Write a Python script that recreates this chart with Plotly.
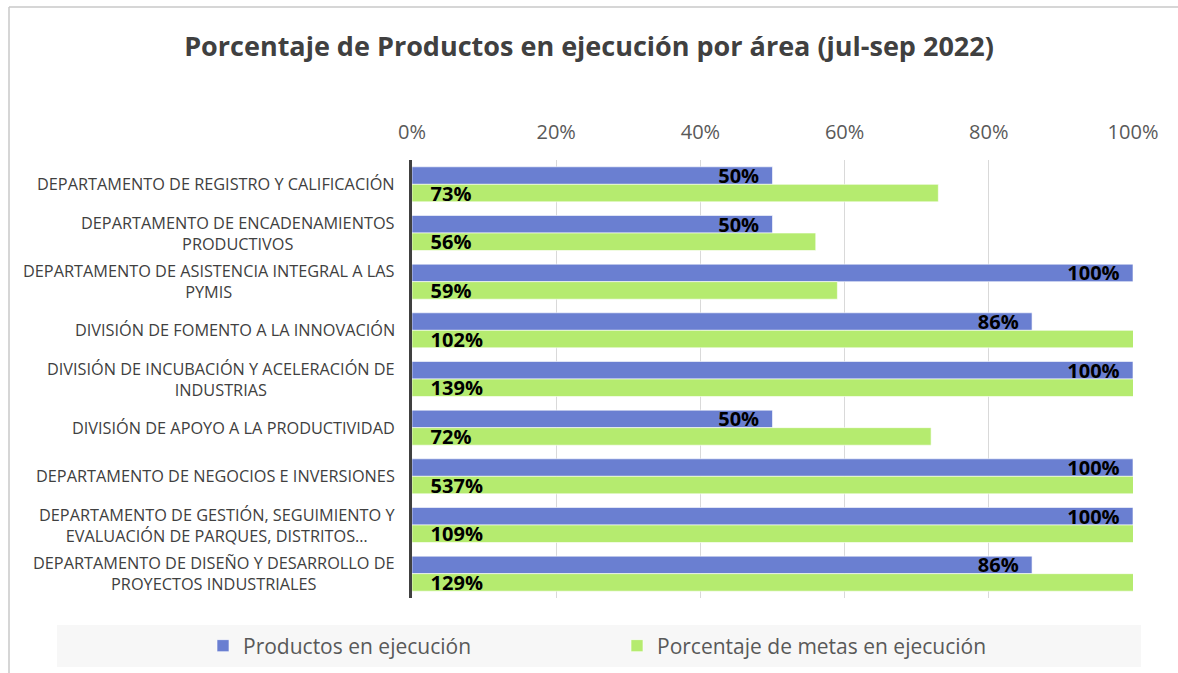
import plotly.graph_objects as go

categories = [
    "DEPARTAMENTO DE REGISTRO Y CALIFICACIÓN",
    "DEPARTAMENTO DE ENCADENAMIENTOS<br>PRODUCTIVOS",
    "DEPARTAMENTO DE ASISTENCIA INTEGRAL A LAS<br>PYMIS",
    "DIVISIÓN DE FOMENTO A LA INNOVACIÓN",
    "DIVISIÓN DE INCUBACIÓN Y ACELERACIÓN DE<br>INDUSTRIAS",
    "DIVISIÓN DE APOYO A LA PRODUCTIVIDAD",
    "DEPARTAMENTO DE NEGOCIOS E INVERSIONES",
    "DEPARTAMENTO DE GESTIÓN, SEGUIMIENTO Y<br>EVALUACIÓN DE PARQUES, DISTRITOS…",
    "DEPARTAMENTO DE DISEÑO Y DESARROLLO DE<br>PROYECTOS INDUSTRIALES",
]
productos = [0.50, 0.50, 1.00, 0.86, 1.00, 0.50, 1.00, 1.00, 0.86]
metas = [0.73, 0.56, 0.59, 1.02, 1.39, 0.72, 5.37, 1.09, 1.29]
series_names = ["Productos en ejecución", "Porcentaje de metas en ejecución"]
x_ticks = [0, 0.2, 0.4, 0.6, 0.8, 1.0]
x_tick_labels = ["0%", "20%", "40%", "60%", "80%", "100%"]
title = "Porcentaje de Productos en ejecución por área (jul-sep 2022)"

BLUE = "#6a7fd1"
GREEN = "#b5eb6f"
FONT = "Open Sans"
NB = "\u00a0"

fig = go.Figure()
fig.add_trace(go.Bar(
    y=categories, x=productos, orientation="h", name=series_names[0],
    marker=dict(color=BLUE, line=dict(color="rgba(255,255,255,0.6)", width=1)),
    text=[f"{v:.0%}" + NB * 2 for v in productos],
    textposition="inside", insidetextanchor="end", constraintext="none",
    textfont=dict(family=FONT, size=20, color="black", weight="bold"),
    legend="legend", showlegend=True,
))
fig.add_trace(go.Bar(
    y=categories, x=metas, orientation="h", name=series_names[1],
    marker=dict(color=GREEN, line=dict(color="rgba(255,255,255,0.6)", width=1)),
    text=[NB * 3 + f"{v:.0%}" for v in metas],
    textposition="inside", insidetextanchor="start", constraintext="none",
    textfont=dict(family=FONT, size=20, color="black", weight="bold"),
    legend="legend2", showlegend=True,
))

# category labels as centered annotations
for c in categories:
    fig.add_annotation(
        x=0, xref="paper", y=c, yref="y", text=c, showarrow=False,
        xanchor="right", align="center", xshift=-15,
        font=dict(family=FONT, size=16.3, color="#404040"),
    )

L, R, T, B = 412, 45, 160, 75
W, H = 1178, 673
pw, ph = W - L - R, H - T - B

def px(xp):
    return (xp - L) / pw

def py(yp):
    return (T + ph - yp) / ph

shapes = [
    # legend background
    dict(type="rect", xref="paper", yref="paper", x0=px(57), x1=px(1141),
         y0=py(625), y1=py(667), fillcolor="#f7f7f7", line=dict(width=0), layer="below"),
    # outer frame
    dict(type="line", xref="paper", yref="paper", x0=px(9), x1=px(9), y0=py(7), y1=py(700),
         line=dict(color="#c8c8c8", width=1.5)),
    dict(type="line", xref="paper", yref="paper", x0=px(9), x1=px(1200), y0=py(7), y1=py(7),
         line=dict(color="#c8c8c8", width=1.5)),
]

legend_style = dict(orientation="h", xref="container", yref="container",
                    xanchor="left", y=1 - 646 / H, yanchor="middle",
                    bgcolor="rgba(0,0,0,0)", visible=True,
                    font=dict(family=FONT, size=21, color="#595959"))

fig.update_layout(
    width=W, height=H,
    margin=dict(l=L, r=R, t=T, b=B),
    paper_bgcolor="white", plot_bgcolor="white",
    barmode="group", bargap=0.28, bargroupgap=0.0,
    showlegend=True,
    title=dict(text=title, x=0.5, xref="container", y=1 - 47 / H, yanchor="middle",
               font=dict(family=FONT, size=27, color="#404040", weight="bold")),
    xaxis=dict(range=[0, 1], side="top", tickvals=x_ticks, ticktext=x_tick_labels,
               showgrid=True, gridcolor="#d9d9d9", gridwidth=1, zeroline=False,
               tickfont=dict(family=FONT, size=20, color="#595959"),
               ticks="", ticklabelstandoff=16, fixedrange=True),
    yaxis=dict(autorange="reversed", showticklabels=False, showgrid=False,
               showline=True, linecolor="#404040", linewidth=3, zeroline=False, ticks=""),
    legend=dict(x=203 / W, **legend_style),
    legend2=dict(x=617 / W, **legend_style),
    shapes=shapes,
)

fig.write_html("out.html", config={"displayModeBar": False},
               post_script="document.body.style.margin='0';document.body.style.padding='0';")
